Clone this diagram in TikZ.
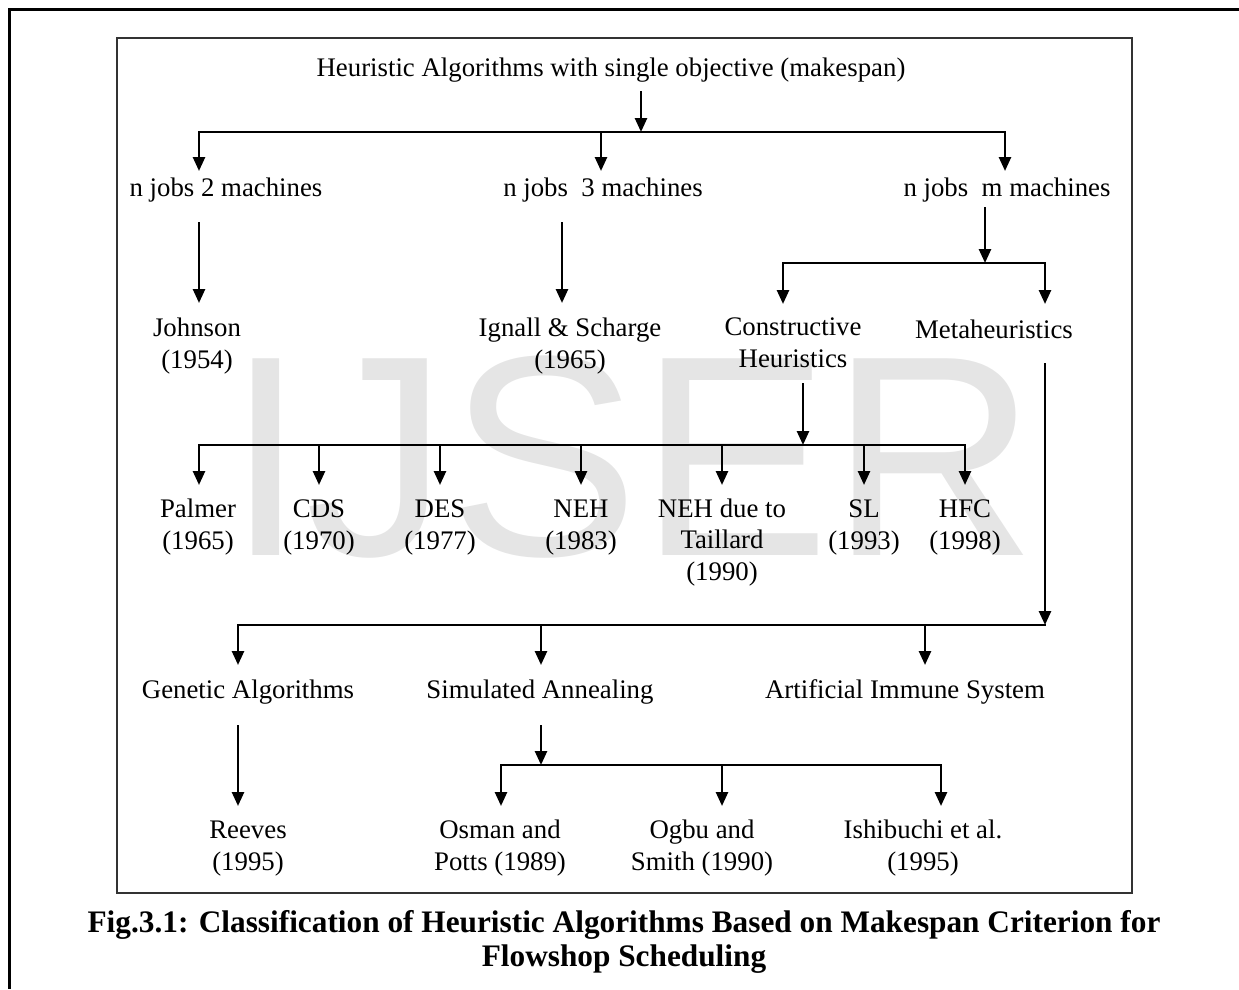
\documentclass[tikz,border=0pt]{standalone}
\usepackage{fontspec}
\setmainfont{Liberation Serif}
\newfontfamily\wmfont{Liberation Sans}
\usetikzlibrary{arrows.meta}

\begin{document}
\begin{tikzpicture}[x=1pt,y=-1pt,
  lbl/.style={font=\fontsize{26.8}{31.5}\selectfont, inner sep=0pt, align=center, anchor=base},
  capt/.style={font=\bfseries\fontsize{31.3}{34}\selectfont, inner sep=0pt, align=center, anchor=base},
  arr/.style={line width=2.6pt, -{Triangle[width=12pt,length=14pt]}},
  bus/.style={line width=2.2pt, line cap=rect},
]
\useasboundingbox (0,0) rectangle (1239,989);

% watermark behind everything
\node[font=\wmfont\fontsize{286}{286}\selectfont, text=black!10, anchor=base west, inner sep=0pt] (wm) at (226,555) {IJSER};

% page frame and figure frame
\draw[line width=3pt] (1239,9) -- (9,9) -- (9,989);
\draw[line width=2pt, black!80] (117,38) rectangle (1132,893);

% labels (multi-line labels are placed by the baseline of their last line)
\node[lbl] (root)    at (611,76)  {Heuristic Algorithms with single objective (makespan)};
\node[lbl] (n2)      at (226,196) {n jobs 2 machines};
\node[lbl] (n3)      at (603,196) {n jobs\ \ 3 machines};
\node[lbl] (nm)      at (1007,196) {n jobs\ \ m machines};
\node[lbl] (johnson) at (197,368) {Johnson\\(1954)};
\node[lbl] (ignall)  at (570,368) {Ignall \& Scharge\\(1965)};
\node[lbl] (constr)  at (793,367) {Constructive\\Heuristics};
\node[lbl] (meta)    at (994,338) {Metaheuristics};
\node[lbl] (palmer)  at (198,549) {Palmer\\(1965)};
\node[lbl] (cds)     at (319,549) {CDS\\(1970)};
\node[lbl] (des)     at (440,549) {DES\\(1977)};
\node[lbl] (neh)     at (581,549) {NEH\\(1983)};
\node[lbl] (nehT)    at (722,580) {NEH due to\\Taillard\\(1990)};
\node[lbl] (sl)      at (864,549) {SL\\(1993)};
\node[lbl] (hfc)     at (965,549) {HFC\\(1998)};
\node[lbl] (ga)      at (248,698) {Genetic Algorithms};
\node[lbl] (sa)      at (540,698) {Simulated Annealing};
\node[lbl] (ais)     at (905,698) {Artificial Immune System};
\node[lbl] (reeves)  at (248,870) {Reeves\\(1995)};
\node[lbl] (osman)   at (500,870) {Osman and\\Potts (1989)};
\node[lbl] (ogbu)    at (702,870) {Ogbu and\\Smith (1990)};
\node[lbl] (ishi)    at (923,870) {Ishibuchi et al.\\(1995)};

% caption
\node[capt] (caption) at (624,966) {Fig.3.1: Classification of Heuristic Algorithms Based on Makespan Criterion for\\Flowshop Scheduling};

% arrow start points below parents, junctions on the buses, and tips above children
\coordinate (sRoot)   at (641,91);   \coordinate (jRoot)   at (641,132);
\coordinate (tN2)     at (199,171);  \coordinate (tN3)     at (601,171);  \coordinate (tNm) at (1005,171);
\coordinate (sN2)     at (199,222);  \coordinate (tJohnson) at (199,303);
\coordinate (sN3)     at (562,222);  \coordinate (tIgnall) at (562,303);
\coordinate (sNm)     at (985,207);  \coordinate (jNm)     at (985,263);
\coordinate (tConstr) at (783,304);  \coordinate (tMeta)   at (1045,304);
\coordinate (sConstr) at (803,383);  \coordinate (jConstr) at (803,445);
\coordinate (tPalmer) at (199,485);  \coordinate (tCds)    at (319,485);  \coordinate (tDes) at (440,485);
\coordinate (tNeh)    at (581,485);  \coordinate (tNehT)   at (722,485);  \coordinate (tSl)  at (864,485);
\coordinate (tHfc)    at (965,485);
\coordinate (sMeta)   at (1045,363); \coordinate (jMeta)   at (1045,625);
\coordinate (tGa)     at (238,665);  \coordinate (tSa)     at (541,665);  \coordinate (tAis) at (925,665);
\coordinate (sGa)     at (238,725);  \coordinate (tReeves) at (238,806);
\coordinate (sSa)     at (541,725);  \coordinate (jSa)     at (541,765);
\coordinate (tOsman)  at (501,806);  \coordinate (tOgbu)   at (722,806);  \coordinate (tIshi) at (941,806);

% root -> three problem classes
\draw[arr] (sRoot) -- (jRoot);
\draw[bus] (tN2 |- jRoot) -- (tNm |- jRoot);
\foreach \t in {tN2,tN3,tNm} \draw[arr] (\t |- jRoot) -- (\t);

% two and three machine cases
\draw[arr] (sN2) -- (tJohnson);
\draw[arr] (sN3) -- (tIgnall);

% m machines -> constructive heuristics and metaheuristics
\draw[arr] (sNm) -- (jNm);
\draw[bus] (tConstr |- jNm) -- (tMeta |- jNm);
\foreach \t in {tConstr,tMeta} \draw[arr] (\t |- jNm) -- (\t);

% constructive heuristics
\draw[arr] (sConstr) -- (jConstr);
\draw[bus] (tPalmer |- jConstr) -- (tHfc |- jConstr);
\foreach \t in {tPalmer,tCds,tDes,tNeh,tNehT,tSl,tHfc} \draw[arr] (\t |- jConstr) -- (\t);

% metaheuristics
\draw[arr] (sMeta) -- (jMeta);
\draw[bus] (tGa |- jMeta) -- (jMeta);
\foreach \t in {tGa,tSa,tAis} \draw[arr] (\t |- jMeta) -- (\t);

% genetic algorithms and simulated annealing
\draw[arr] (sGa) -- (tReeves);
\draw[arr] (sSa) -- (jSa);
\draw[bus] (tOsman |- jSa) -- (tIshi |- jSa);
\foreach \t in {tOsman,tOgbu,tIshi} \draw[arr] (\t |- jSa) -- (\t);
\end{tikzpicture}
\end{document}
